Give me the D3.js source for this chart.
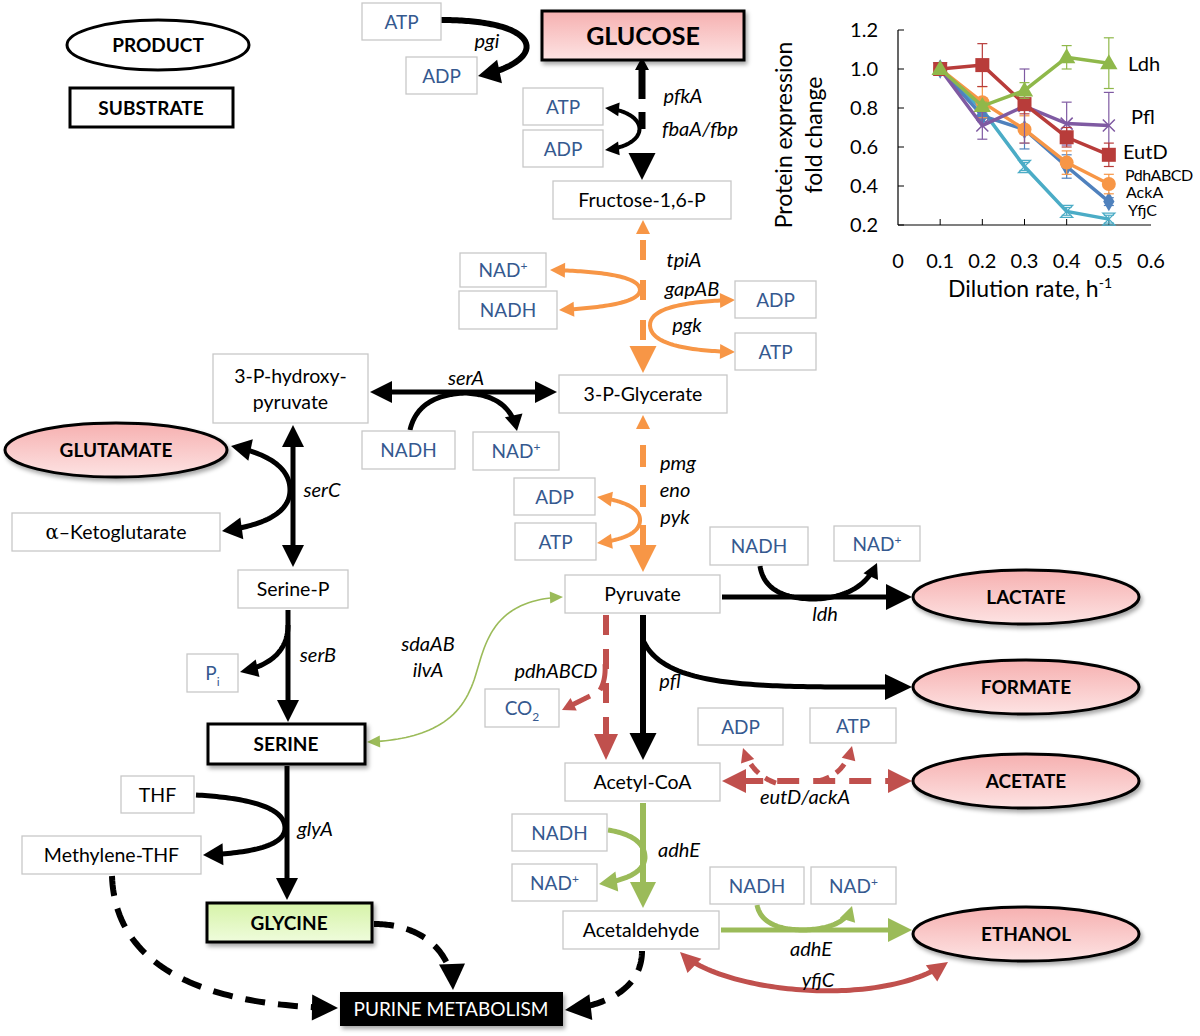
<!DOCTYPE html>
<html>
<head>
<meta charset="utf-8">
<script src="https://cdn.jsdelivr.net/npm/d3@7"></script>
<style>
  body { margin: 0; background: #fff; }
  svg text { font-family: Lato, "Open Sans", sans-serif; }
  .gene { font-style: italic; font-size: 20px; fill: #000; }
  .met { font-size: 19.5px; fill: #000; }
  .cof { font-size: 19px; fill: #35598f; }
  .big { font-weight: bold; font-size: 19px; fill: #000; }
</style>
</head>
<body>
<div id="chart"></div>
<script>
// ---- inset chart data ----
var dilution = [0.1, 0.2, 0.3, 0.4, 0.5];
var seriesNames = ["Ldh", "Pfl", "EutD", "PdhABCD", "AckA", "YfjC"];
var ldh  = [1.00, 0.81, 0.89, 1.06, 1.03];
var pfl  = [1.00, 0.71, 0.81, 0.72, 0.71];
var eutD = [1.00, 1.02, 0.82, 0.65, 0.56];
var pdh  = [1.00, 0.83, 0.69, 0.52, 0.41];
var ackA = [1.00, 0.76, 0.69, 0.50, 0.32];
var yfjC = [1.00, 0.79, 0.50, 0.27, 0.23];
var ldhErr  = [0.00, 0.02, 0.04, 0.06, 0.13];
var pflErr  = [0.00, 0.07, 0.19, 0.11, 0.17];
var eutDErr = [0.00, 0.11, 0.05, 0.05, 0.06];
var pdhErr  = [0.00, 0.08, 0.07, 0.06, 0.05];
var ackAErr = [0.00, 0.03, 0.10, 0.06, 0.02];
var yfjCErr = [0.00, 0.02, 0.02, 0.02, 0.02];
var xTicks = [0, 0.1, 0.2, 0.3, 0.4, 0.5, 0.6];
var yTicks = [0.2, 0.4, 0.6, 0.8, 1.0, 1.2];

// ---- pathway labels ----
var cofactorBoxes = [
  ["ATP", 362, 3, 441, 40], ["ADP", 406, 57, 477, 94],
  ["ATP", 523, 88, 603, 125], ["ADP", 523, 130, 603, 167],
  ["NAD+", 460, 253, 546, 287], ["NADH", 459, 291, 557, 329],
  ["ADP", 735, 281, 816, 318], ["ATP", 735, 333, 816, 370],
  ["NADH", 362, 431, 455, 469], ["NAD+", 473, 432, 559, 470],
  ["ADP", 514, 478, 595, 515], ["ATP", 515, 523, 596, 560],
  ["NADH", 710, 527, 808, 565], ["NAD+", 834, 526, 920, 561],
  ["Pi", 187, 654, 238, 692], ["CO2", 485, 689, 559, 727],
  ["ADP", 698, 708, 783, 745], ["ATP", 810, 708, 896, 743],
  ["NADH", 512, 814, 607, 851], ["NAD+", 512, 864, 597, 901],
  ["NADH", 710, 867, 804, 904], ["NAD+", 811, 867, 896, 904]
];
var metaboliteBoxes = [
  ["Fructose-1,6-P", 553, 181, 731, 219], ["3-P-Glycerate", 559, 375, 727, 413],
  ["3-P-hydroxy-|pyruvate", 213, 354, 368, 423], ["α–Ketoglutarate", 12, 513, 220, 551],
  ["Serine-P", 238, 570, 348, 608], ["Pyruvate", 565, 575, 720, 613],
  ["Acetyl-CoA", 565, 763, 720, 801], ["THF", 121, 776, 194, 813],
  ["Methylene-THF", 22, 836, 201, 874], ["Acetaldehyde", 563, 911, 719, 949]
];
var products = [["GLUTAMATE", 116, 450], ["LACTATE", 1026, 597], ["FORMATE", 1026, 687],
  ["ACETATE", 1026, 781], ["ETHANOL", 1026, 934]];
var genes = [
  ["pgi", 487, 48], ["pfkA", 683, 103], ["fbaA/fbp", 700, 136],
  ["tpiA", 684, 267], ["gapAB", 692, 296], ["pgk", 687, 332],
  ["serA", 466, 385], ["serC", 322, 497], ["pmg", 678, 470], ["eno", 675, 497], ["pyk", 675, 524],
  ["ldh", 825, 621], ["pdhABCD", 556, 678], ["pfl", 670, 688], ["sdaAB", 428, 651], ["ilvA", 428, 677],
  ["serB", 318, 662], ["glyA", 315, 836], ["adhE", 679, 857], ["eutD/ackA", 805, 804],
  ["adhE", 811, 956], ["yfjC", 818, 987]
];

var svg = d3.select("#chart").append("svg").attr("width", 1200).attr("height", 1036);
var defs = svg.append("defs");
function grad(id, top, bot) {
  var g = defs.append("linearGradient").attr("id", id).attr("x1", 0).attr("y1", 0).attr("x2", 0).attr("y2", 1);
  g.append("stop").attr("offset", "0%").attr("stop-color", top);
  g.append("stop").attr("offset", "100%").attr("stop-color", bot);
}
grad("pink", "#f6b0b0", "#fde3e3");
grad("green", "#d6f3a8", "#effcdc");
var sh = defs.append("filter").attr("id", "shadow").attr("x", "-10%").attr("y", "-20%").attr("width", "130%").attr("height", "160%");
sh.append("feDropShadow").attr("dx", 2).attr("dy", 3).attr("stdDeviation", 2).attr("flood-color", "#000").attr("flood-opacity", 0.35);

var ORANGE = "#f79646", RED = "#c0504d", GREEN = "#9bbb59";

// ---- arrows: shaft sampled between heads, heads drawn as triangles ----
var tmp = svg.append("path").attr("fill", "none").attr("stroke", "none");
function arrow(d, o) {
  tmp.attr("d", d);
  var node = tmp.node(), L = node.getTotalLength();
  var a = o.start ? o.head * 0.8 : 0, b = o.end ? o.head * 0.8 : 0;
  var pts = [];
  for (var i = 0; i <= 60; i++) {
    var p = node.getPointAtLength(a + (L - a - b) * i / 60);
    pts.push([p.x, p.y]);
  }
  var g = svg.append("g");
  g.append("path").attr("d", d3.line()(pts)).attr("fill", "none")
    .attr("stroke", o.color).attr("stroke-width", o.w)
    .attr("stroke-dasharray", o.dash || null);
  function head(tipLen, baseLen) {
    var t = node.getPointAtLength(tipLen), q = node.getPointAtLength(baseLen);
    var dx = t.x - q.x, dy = t.y - q.y, n = Math.sqrt(dx * dx + dy * dy);
    var ux = dx / n, uy = dy / n, hw = (o.hw || o.head) / 2;
    var bx = t.x - ux * o.head, by = t.y - uy * o.head;
    g.append("path").attr("d", "M" + t.x + "," + t.y + "L" + (bx - uy * hw) + "," + (by + ux * hw) +
      "L" + (bx + uy * hw) + "," + (by - ux * hw) + "Z").attr("fill", o.color);
  }
  if (o.end) head(L, L - 2);
  if (o.start) head(0, 2);
}

// ---- legend ----
svg.append("ellipse").attr("cx", 158).attr("cy", 45).attr("rx", 91).attr("ry", 25)
  .attr("fill", "#fff").attr("stroke", "#000").attr("stroke-width", 3);
svg.append("text").attr("class", "big").attr("x", 158).attr("y", 52).attr("text-anchor", "middle").text("PRODUCT");
svg.append("rect").attr("x", 70).attr("y", 88).attr("width", 163).attr("height", 39)
  .attr("fill", "#fff").attr("stroke", "#000").attr("stroke-width", 3);
svg.append("text").attr("class", "big").attr("x", 151).attr("y", 115).attr("text-anchor", "middle").text("SUBSTRATE");

// ---- pathway arrows ----
// glycolysis upper (black)
arrow("M441,20 C548,20 548,62 478,76", {color: "#000", w: 6, head: 22, hw: 24, end: true});
arrow("M642,62 L642,180", {color: "#000", w: 7, head: 27, hw: 27, end: true, dash: "0 5 32 13 17 70"});
svg.append("path").attr("d", "M642,57 L635,70 L649,70 Z").attr("fill", "#000");
arrow("M605,108 C650,112 652,145 605,150", {color: "#000", w: 4, head: 14, hw: 14, start: true, end: true});
// orange dashed trunk
arrow("M643,222 L643,373", {color: ORANGE, w: 6, head: 27, hw: 27, end: true, dash: "0 18 20 20 20 20 20 20"});
svg.append("path").attr("d", "M643,220 L636,234 L650,234 Z").attr("fill", ORANGE);
arrow("M550,270 Q640,272 640,290 Q640,306 559,310", {color: ORANGE, w: 4, head: 15, hw: 15, start: true, end: true});
arrow("M735,300 Q650,302 650,325 Q650,350 735,352", {color: ORANGE, w: 4, head: 15, hw: 15, start: true, end: true});
arrow("M643,415 L643,572", {color: ORANGE, w: 6, head: 27, hw: 27, end: true, dash: "0 30 22 18 22 18 22 18"});
svg.append("path").attr("d", "M643,415 L636,429 L650,429 Z").attr("fill", ORANGE);
arrow("M597,497 Q640,503 640,520 Q640,538 597,543", {color: ORANGE, w: 4, head: 15, hw: 15, start: true, end: true});
// serine branch
arrow("M370,392 L557,392", {color: "#000", w: 5, head: 22, hw: 22, start: true, end: true});
arrow("M410,430 Q418,395 465,393 Q510,395 517,431", {color: "#000", w: 5, head: 16, hw: 18, end: true});
arrow("M293,425 L293,567", {color: "#000", w: 5, head: 22, hw: 22, start: true, end: true});
arrow("M231,446 Q290,458 290,490 Q290,522 222,531", {color: "#000", w: 5, head: 20, hw: 22, start: true, end: true});
arrow("M288,610 L288,722", {color: "#000", w: 5, head: 22, hw: 22, end: true});
arrow("M288,625 Q288,662 240,672", {color: "#000", w: 5, head: 18, hw: 18, end: true});
arrow("M287,766 L287,900", {color: "#000", w: 5, head: 22, hw: 22, end: true});
arrow("M196,795 Q285,800 285,828 Q285,852 203,855", {color: "#000", w: 5, head: 20, hw: 22, end: true});
// purine
arrow("M112,876 C115,965 200,1006 338,1008", {color: "#000", w: 6, head: 26, hw: 26, end: true, dash: "20 13"});
arrow("M374,924 C420,924 452,950 453,990", {color: "#000", w: 6, head: 26, hw: 26, end: true, dash: "20 13"});
arrow("M642,951 C642,985 612,1005 565,1010", {color: "#000", w: 6, head: 26, hw: 26, end: true, dash: "20 13"});
// pyruvate node
arrow("M563,597 C480,600 485,660 470,690 C455,725 420,740 367,742", {color: GREEN, w: 1.6, head: 13, hw: 12, start: true, end: true});
arrow("M722,597 L912,597", {color: "#000", w: 5, head: 26, hw: 26, end: true});
arrow("M760,566 Q765,599 815,599 Q862,597 877,563", {color: "#000", w: 5, head: 15, hw: 16, end: true});
arrow("M643,615 L643,760", {color: "#000", w: 6, head: 27, hw: 27, end: true});
arrow("M643,640 C665,690 760,687 912,687", {color: "#000", w: 5, head: 27, hw: 26, end: true});
arrow("M606,615 L606,760", {color: RED, w: 6, head: 26, hw: 24, end: true, dash: "20 14"});
arrow("M605,664 Q606,680 600,690", {color: RED, w: 5, head: 1, hw: 1});
arrow("M590,696 L562,710", {color: RED, w: 5, head: 13, hw: 14, end: true});
// acetate
arrow("M722,781 L912,781", {color: RED, w: 6, head: 24, hw: 24, start: true, end: true, dash: "22 14"});
arrow("M776,783 Q752,775 743,748", {color: RED, w: 5, head: 14, hw: 14, end: true, dash: "12 8"});
arrow("M818,781 Q845,775 852,746", {color: RED, w: 5, head: 14, hw: 14, end: true, dash: "12 8"});
// ethanol
arrow("M643,803 L643,908", {color: GREEN, w: 6, head: 26, hw: 26, end: true});
arrow("M608,830 Q645,836 645,858 Q643,878 599,884", {color: GREEN, w: 5, head: 18, hw: 20, end: true});
arrow("M721,930 L912,930", {color: GREEN, w: 5, head: 24, hw: 24, end: true});
arrow("M757,905 Q762,930 805,930 Q846,928 852,906", {color: GREEN, w: 5, head: 15, hw: 16, end: true});
arrow("M680,952 C720,992 880,1010 948,962", {color: RED, w: 5, head: 20, hw: 20, start: true, end: true});

// ---- boxes ----
function addText(sel, label) {
  if (label === "NAD+") { sel.text("NAD"); sel.append("tspan").attr("dy", -7).attr("font-size", 12).text("+"); }
  else if (label === "Pi") { sel.text("P"); sel.append("tspan").attr("dy", 6).attr("font-size", 12).text("i"); }
  else if (label === "CO2") { sel.text("CO"); sel.append("tspan").attr("dy", 6).attr("font-size", 12).text("2"); }
  else sel.text(label);
}
cofactorBoxes.forEach(function(b) {
  svg.append("rect").attr("x", b[1]).attr("y", b[2]).attr("width", b[3] - b[1]).attr("height", b[4] - b[2])
    .attr("fill", "#fff").attr("stroke", "#c8c8c8").attr("stroke-width", 1.3);
  var t = svg.append("text").attr("class", "cof").attr("x", (b[1] + b[3]) / 2).attr("y", (b[2] + b[4]) / 2 + 7)
    .attr("text-anchor", "middle");
  addText(t, b[0]);
});
metaboliteBoxes.forEach(function(b) {
  svg.append("rect").attr("x", b[1]).attr("y", b[2]).attr("width", b[3] - b[1]).attr("height", b[4] - b[2])
    .attr("fill", "#fff").attr("stroke", "#c8c8c8").attr("stroke-width", 1.3);
  var lines = b[0].split("|"), cy = (b[2] + b[4]) / 2;
  lines.forEach(function(l, i) {
    var t = svg.append("text").attr("class", "met").attr("x", (b[1] + b[3]) / 2)
      .attr("y", cy + 7 + (i - (lines.length - 1) / 2) * 26).attr("text-anchor", "middle");
    if (l.charAt(0) === "α") {
      t.append("tspan").attr("font-family", "'DejaVu Serif', serif").text("α");
      t.append("tspan").text(l.slice(1));
    } else t.text(l);
  });
});
// substrates / special
svg.append("rect").attr("x", 542).attr("y", 11).attr("width", 202).attr("height", 49).attr("fill", "url(#pink)")
  .attr("stroke", "#000").attr("stroke-width", 3).attr("filter", "url(#shadow)");
svg.append("text").attr("class", "big").style("font-size", "25px").attr("x", 643).attr("y", 45).attr("text-anchor", "middle").text("GLUCOSE");
svg.append("rect").attr("x", 208).attr("y", 724).attr("width", 157).attr("height", 40).attr("fill", "#fff")
  .attr("stroke", "#000").attr("stroke-width", 3).attr("filter", "url(#shadow)");
svg.append("text").attr("class", "big").attr("x", 286).attr("y", 751).attr("text-anchor", "middle").text("SERINE");
svg.append("rect").attr("x", 207).attr("y", 903).attr("width", 165).attr("height", 39).attr("fill", "url(#green)")
  .attr("stroke", "#000").attr("stroke-width", 3).attr("filter", "url(#shadow)");
svg.append("text").attr("class", "big").attr("x", 289).attr("y", 930).attr("text-anchor", "middle").text("GLYCINE");
svg.append("rect").attr("x", 340).attr("y", 992).attr("width", 223).attr("height", 34).attr("fill", "#000")
  .attr("filter", "url(#shadow)");
svg.append("text").attr("x", 451).attr("y", 1016).attr("text-anchor", "middle").attr("font-size", 19)
  .attr("fill", "#fff").text("PURINE METABOLISM");
products.forEach(function(p) {
  svg.append("ellipse").attr("cx", p[1]).attr("cy", p[2]).attr("rx", p[0] === "GLUTAMATE" ? 111 : 113).attr("ry", 27)
    .attr("fill", "url(#pink)").attr("stroke", "#000").attr("stroke-width", 3).attr("filter", "url(#shadow)");
  svg.append("text").attr("class", "big").attr("x", p[1]).attr("y", p[2] + 7).attr("text-anchor", "middle").text(p[0]);
});
genes.forEach(function(g) {
  svg.append("text").attr("class", "gene").attr("x", g[1]).attr("y", g[2]).attr("text-anchor", "middle").text(g[0]);
});

// ---- inset chart ----
var x = d3.scaleLinear().domain([0, 0.6]).range([898, 1151]);
var y = d3.scaleLinear().domain([0.2, 1.2]).range([225, 30]);
var inset = svg.append("g");
inset.append("line").attr("x1", x(0)).attr("x2", x(0)).attr("y1", y(1.2)).attr("y2", y(0.2)).attr("stroke", "#000").attr("stroke-width", 1.2);
inset.append("line").attr("x1", x(0)).attr("x2", x(0.6)).attr("y1", y(0.2)).attr("y2", y(0.2)).attr("stroke", "#000").attr("stroke-width", 1.2);
yTicks.forEach(function(t) {
  inset.append("line").attr("x1", x(0)).attr("x2", x(0) + 6).attr("y1", y(t)).attr("y2", y(t)).attr("stroke", "#000");
  inset.append("text").attr("x", x(0) - 20).attr("y", y(t) + 7).attr("text-anchor", "end").attr("font-size", 20).text(d3.format(".1f")(t));
});
xTicks.forEach(function(t) {
  if (t > 0 && t < 0.6) inset.append("line").attr("x1", x(t)).attr("x2", x(t)).attr("y1", y(0.2)).attr("y2", y(0.2) - 6).attr("stroke", "#000");
  inset.append("text").attr("x", x(t)).attr("y", 268).attr("text-anchor", "middle").attr("font-size", 20).text(t === 0 ? "0" : d3.format(".1f")(t));
});
var xl = inset.append("text").attr("x", 1030).attr("y", 297).attr("text-anchor", "middle").attr("font-size", 23).text("Dilution rate, h");
xl.append("tspan").attr("dy", -9).attr("font-size", 14).text("-1");
inset.append("text").attr("transform", "translate(792,135) rotate(-90)").attr("text-anchor", "middle").attr("font-size", 23).text("Protein expression");
inset.append("text").attr("transform", "translate(822,135) rotate(-90)").attr("text-anchor", "middle").attr("font-size", 23).text("fold change");

var series = [
  {name: "YfjC", v: yfjC, e: yfjCErr, c: "#4bacc6", m: "hour"},
  {name: "AckA", v: ackA, e: ackAErr, c: "#4f81bd", m: "diamond"},
  {name: "PdhABCD", v: pdh, e: pdhErr, c: ORANGE, m: "circle"},
  {name: "Pfl", v: pfl, e: pflErr, c: "#7f5aa2", m: "x"},
  {name: "EutD", v: eutD, e: eutDErr, c: "#b83c3a", m: "square"},
  {name: "Ldh", v: ldh, e: ldhErr, c: "#8fb84a", m: "triangle"}
];
var line = d3.line().x(function(d) { return x(d[0]); }).y(function(d) { return y(d[1]); });
series.forEach(function(s) {
  var pts = dilution.map(function(dv, i) { return [dv, s.v[i], s.e[i]]; });
  var g = inset.append("g");
  pts.forEach(function(p) {
    if (p[2] <= 0) return;
    g.append("line").attr("x1", x(p[0])).attr("x2", x(p[0])).attr("y1", y(p[1] - p[2])).attr("y2", y(p[1] + p[2]))
      .attr("stroke", s.c).attr("stroke-width", 1.2);
    [p[1] - p[2], p[1] + p[2]].forEach(function(e) {
      g.append("line").attr("x1", x(p[0]) - 5).attr("x2", x(p[0]) + 5).attr("y1", y(e)).attr("y2", y(e)).attr("stroke", s.c).attr("stroke-width", 1.2);
    });
  });
  g.append("path").attr("d", line(pts)).attr("fill", "none").attr("stroke", s.c).attr("stroke-width", 3.5);
  pts.forEach(function(p) {
    var cx = x(p[0]), cy = y(p[1]);
    if (s.m === "circle") g.append("circle").attr("cx", cx).attr("cy", cy).attr("r", 7).attr("fill", s.c);
    else if (s.m === "square") g.append("rect").attr("x", cx - 7).attr("y", cy - 7).attr("width", 14).attr("height", 14).attr("fill", s.c);
    else if (s.m === "diamond") g.append("path").attr("d", d3.symbol(d3.symbolDiamond, 110)()).attr("transform", "translate(" + cx + "," + cy + ")").attr("fill", s.c);
    else if (s.m === "triangle") g.append("path").attr("d", d3.symbol(d3.symbolTriangle, 130)()).attr("transform", "translate(" + cx + "," + (cy + 1) + ")").attr("fill", s.c);
    else if (s.m === "x") g.append("path").attr("d", "M-6,-6L6,6M-6,6L6,-6").attr("transform", "translate(" + cx + "," + cy + ")").attr("stroke", s.c).attr("stroke-width", 1.5);
    else g.append("path").attr("d", "M-6,-6L6,-6L-6,6L6,6Z").attr("transform", "translate(" + cx + "," + cy + ")").attr("fill", "none").attr("stroke", s.c).attr("stroke-width", 1.3);
  });
});
var labelPos = {Ldh: [1128, 71, 20], Pfl: [1131, 124, 20], EutD: [1123, 159, 20], PdhABCD: [1125, 181, 16], AckA: [1126, 198, 16], YfjC: [1128, 216, 16]};
seriesNames.forEach(function(n) {
  var p = labelPos[n];
  inset.append("text").attr("x", p[0]).attr("y", p[1]).attr("font-size", p[2]).attr("letter-spacing", n === "PdhABCD" ? -0.5 : 0).text(n);
});
tmp.remove();
</script>
</body>
</html>
